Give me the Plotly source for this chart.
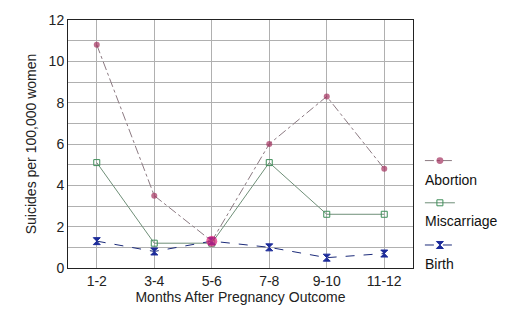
import plotly.graph_objects as go

categories = ["1-2", "3-4", "5-6", "7-8", "9-10", "11-12"]
abortion = [10.8, 3.5, 1.3, 6.0, 8.3, 4.8]
miscarriage = [5.1, 1.2, 1.2, 5.1, 2.6, 2.6]
birth = [1.3, 0.8, 1.3, 1.0, 0.5, 0.7]
series_names = ["Abortion", "Miscarriage", "Birth"]

FONT = "Liberation Sans, Arial, sans-serif"

fig = go.Figure()
fig.add_trace(go.Scatter(
    x=categories, y=miscarriage, mode="lines+markers", name=" ",
    legendgroup="m", legendrank=2,
    line=dict(color="#6f8f78", width=1),
    marker=dict(symbol="square-open", size=6, color="#3f8f5a", line=dict(width=1)),
))
fig.add_trace(go.Scatter(
    x=categories, y=birth, mode="lines+markers", name=" ",
    legendgroup="b", legendrank=3,
    line=dict(color="#1c2b7a", width=1, dash="dash"),
    marker=dict(symbol="hourglass", size=7, color="#1c2b9a", line=dict(width=1, color="#1c2b9a")),
))
fig.add_trace(go.Scatter(
    x=categories, y=abortion, mode="lines+markers", name=" ",
    legendgroup="a", legendrank=1,
    line=dict(color="#8c7a82", width=1, dash="dashdot"),
    marker=dict(symbol="circle", size=[6, 6, 11, 6, 6, 6],
                color=["#a3305e", "#a3305e", "#e0207a", "#a3305e", "#a3305e", "#a3305e"],
                line=dict(width=0)),
))

for i, nm in enumerate(series_names):
    fig.add_annotation(
        x=1.03, xref="paper", y=[178, 220, 264][i], yref="paper",
        text=nm, showarrow=False, xanchor="left", yanchor="middle",
        font=dict(family=FONT, size=14, color="#111"),
    )

fig.update_layout(
    width=525, height=323,
    margin=dict(l=68, r=112, t=14, b=55),
    paper_bgcolor="white", plot_bgcolor="white",
    font=dict(family=FONT, size=14, color="#222"),
    showlegend=True,
    legend=dict(x=1.02, y=0.496, xanchor="left", yanchor="top",
                tracegroupgap=21, itemwidth=30,
                font=dict(family=FONT, size=14), bgcolor="rgba(0,0,0,0)"),
    xaxis=dict(
        type="category", range=[-0.5, 5.5],
        showgrid=True, gridcolor="#b0b0b0", gridwidth=1,
        showline=True, linecolor="#222", linewidth=1, mirror=True,
        ticks="", tickfont=dict(family=FONT, size=14),
        title=dict(text="Months After Pregnancy Outcome", font=dict(family=FONT, size=14), standoff=2),
    ),
    yaxis=dict(
        range=[0, 12], dtick=2,
        showgrid=True, gridcolor="#b0b0b0", gridwidth=1,
        minor=dict(dtick=1, showgrid=True, gridcolor="#b0b0b0", gridwidth=1),
        showline=True, linecolor="#222", linewidth=1, mirror=True,
        zeroline=False, ticks="", tickfont=dict(family=FONT, size=14),
        title=dict(text="Suicides per 100,000 women", font=dict(family=FONT, size=14), standoff=8),
    ),
)

# convert annotation pixel rows to paper coords
plot_top, plot_h = 14, 323 - 14 - 55
for ann in fig.layout.annotations:
    ann.y = 1 - (ann.y - plot_top) / plot_h

fig.write_html("out.html")
